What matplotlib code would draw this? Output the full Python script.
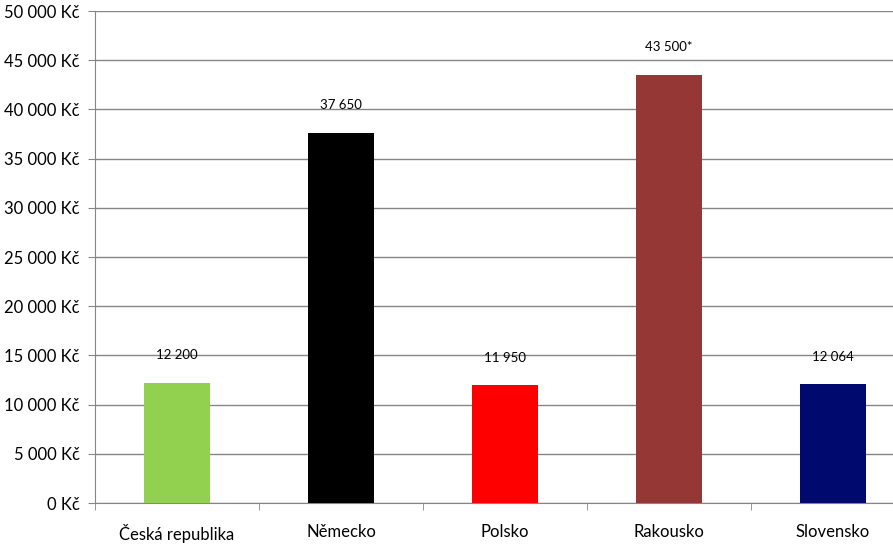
import numpy as np
import matplotlib.pyplot as plt
from matplotlib.ticker import FuncFormatter, MultipleLocator, FixedLocator

# data
countries = ["Česká republika", "Německo", "Polsko", "Rakousko", "Slovensko"]
values = [12200, 37650, 11950, 43500, 12064]
value_labels = ["12 200", "37 650", "11 950", "43 500*", "12 064"]
colors = ["#92D050", "#000000", "#FF0000", "#953735", "#000A6E"]

plt.rcParams['font.family'] = ['Lato', 'DejaVu Sans']

fig = plt.figure(figsize=(8.93, 5.51), dpi=100)
# plot area runs past the right edge of the image, like in the original
ax = fig.add_axes([0.1064, 0.087, 0.918, 0.893])

x = np.arange(len(countries))
ax.bar(x, values, width=0.40, color=colors, zorder=3)

for xi, v, lab in zip(x, values, value_labels):
    ax.annotate(lab, (xi, v), xytext=(0, 15.5), textcoords="offset points",
                ha="center", va="bottom", fontsize=9.5, color="black")

ax.set_ylim(0, 50000)
ax.set_xlim(-0.5, len(countries) - 0.5)
ax.yaxis.set_major_locator(MultipleLocator(5000))
ax.yaxis.set_major_formatter(FuncFormatter(
    lambda v, p: "{:,.0f} Kč".format(v).replace(",", " ")))
ax.grid(axis="y", color="#868686", lw=1.0, zorder=0)

ax.set_xticks(x)
ax.set_xticklabels(countries, fontsize=12)
ax.tick_params(axis="x", length=0, pad=15)
ax.xaxis.set_minor_locator(FixedLocator(np.arange(-0.5, len(countries), 1.0)))
ax.tick_params(axis="x", which="minor", length=5, color="#868686")
ax.tick_params(axis="y", labelsize=12, length=5, color="#868686", pad=6)

for s in ["top", "right"]:
    ax.spines[s].set_visible(False)
for s in ["left", "bottom"]:
    ax.spines[s].set_color("#868686")

fig.savefig("out.png", dpi=100)
